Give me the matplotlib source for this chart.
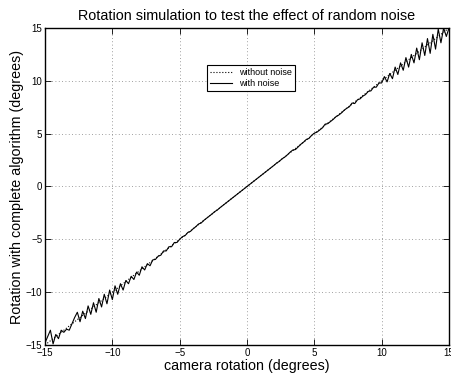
import numpy as np
import matplotlib
matplotlib.use("Agg")
import matplotlib.pyplot as plt

plt.rcParams['font.family'] = ['Liberation Sans', 'DejaVu Sans']

# camera rotation samples (degrees)
camera_rot = np.linspace(-15, 15, 151)

# rotation recovered by the algorithm, with random noise added
with_noise = [
    -14.8, -14.2, -13.6, -14.9, -14.0, -14.4, -13.6, -13.8, -13.5, -13.6,
    -13.0, -12.4, -11.9, -12.8, -11.8, -12.5, -11.3, -12.1, -11.0, -11.9,
    -10.6, -11.4, -10.2, -11.1, -9.8, -10.7, -9.4, -10.2, -9.2, -9.8,
    -8.9, -9.2, -8.5, -8.8, -8.1, -8.4, -7.6, -7.9, -7.3, -7.5,
    -6.95, -6.9, -6.6, -6.5, -6.1, -6.1, -5.7, -5.7, -5.3, -5.3,
    -5.0, -4.75, -4.65, -4.35, -4.25, -4.0, -3.8, -3.55, -3.45, -3.2,
    -3.0, -2.8, -2.6, -2.38, -2.22, -2.0, -1.8, -1.6, -1.4, -1.2,
    -1.0, -0.8, -0.6, -0.4, -0.2, 0.0, 0.2, 0.4, 0.6, 0.8,
    1.0, 1.2, 1.4, 1.6, 1.8, 2.0, 2.22, 2.38, 2.62, 2.78,
    3.0, 3.25, 3.45, 3.5, 3.75, 4.0, 4.2, 4.45, 4.55, 4.85,
    5.05, 5.15, 5.35, 5.55, 5.9, 5.95, 6.15, 6.35, 6.6, 6.75,
    6.95, 7.2, 7.4, 7.55, 7.9, 7.85, 8.2, 8.3, 8.55, 8.7,
    9.0, 9.05, 9.4, 9.4, 9.8, 9.8, 10.4, 9.9, 10.7, 10.2,
    11.3, 10.6, 11.7, 11.0, 12.2, 11.3, 12.5, 11.7, 13.1, 12.0,
    13.6, 12.4, 14.0, 12.6, 14.4, 13.0, 14.9, 13.6, 15.0, 14.2,
    15.0,
]

# ideal result without noise
clean_x = [-15, 15]
clean_y = [-15, 15]

fig = plt.figure(figsize=(4.51, 3.81), dpi=100)
ax = fig.add_axes([0.0998, 0.0945, 0.8958, 0.832])

ax.plot(clean_x, clean_y, 'k:', linewidth=0.8, label='without noise')
ax.plot(camera_rot, with_noise, 'k-', linewidth=0.8, label='with noise')

ax.set_xlim(-15, 15)
ax.set_ylim(-15, 15)
ax.set_xticks([-15, -10, -5, 0, 5, 10, 15])
ax.set_yticks([-15, -10, -5, 0, 5, 10, 15])
ax.tick_params(direction='in', top=True, right=True, labelsize=7, length=4, width=0.6, pad=2)
ax.grid(True, linestyle=(0, (1, 3)), color='0.5', linewidth=0.6)
for s in ax.spines.values():
    s.set_linewidth(1.0)

ax.set_title('Rotation simulation to test the effect of random noise', fontsize=10.4, pad=6)
ax.set_xlabel('camera rotation (degrees)', fontsize=10.3, labelpad=1)
ax.set_ylabel('Rotation with complete algorithm (degrees)', fontsize=10.3, labelpad=1)

leg = ax.legend(loc='center', bbox_to_anchor=(0.51, 0.842), fontsize=6.5, fancybox=False,
                edgecolor='k', framealpha=1, borderpad=0.3, handlelength=2.5, labelspacing=0.2)
leg.get_frame().set_linewidth(0.8)

fig.savefig('out.png', dpi=100)
